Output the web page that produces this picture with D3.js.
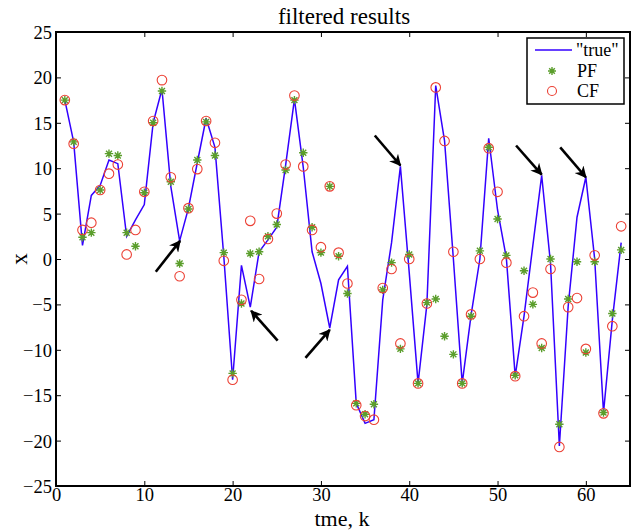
<!DOCTYPE html>
<html>
<head>
<meta charset="utf-8">
<script src="https://cdn.jsdelivr.net/npm/d3@7"></script>
<style>
body { margin: 0; background: #fff; }
svg text { font-family: "Liberation Serif", "Times New Roman", serif; fill: #000; }
</style>
</head>
<body>
<svg id="chart" width="638" height="532"></svg>
<script>
// ---- data ----
const steps = d3.range(1, 65);
const trueValues = [17.5, 12.9, 1.5, 7.0, 8.1, 10.9, 10.5, 2.5, 4.3, 6.0,
  15.0, 18.7, 8.0, 2.0, 5.6, 10.6, 15.5, 12.3, 0.3, -13.3,
  -0.7, -5.3, 0.8, 2.1, 3.5, 10.3, 17.6, 10.1, 0.8, -2.7,
  -7.6, -2.3, -0.8, -15.9, -18.1, -17.7, -4.5, 1.8, 10.2, -1.5,
  -13.7, -5.0, 19.1, 13.0, 0.0, -13.7, -6.2, 0.0, 13.3, 5.4,
  0.1, -12.9, -6.3, 1.5, 9.2, -0.5, -20.6, -5.2, 4.6, 9.0,
  0.0, -16.9, -6.7, 1.8];
const pfValues = [17.5, 12.9, 2.4, 2.9, 7.6, 11.6, 11.4, 2.9, 1.4, 7.3,
  15.0, 18.5, 8.5, -0.5, 5.5, 10.9, 15.1, 11.4, 0.7, -12.6,
  -4.9, 0.6, 0.8, 2.5, 3.8, 9.8, 17.5, 11.7, 3.5, 0.7,
  8.0, 0.3, -3.8, -15.9, -17.1, -16.0, -3.4, -0.4, -9.9, 0.5,
  -13.7, -4.8, -4.4, -8.5, -10.5, -13.7, -6.3, 0.9, 12.3, 4.4,
  0.4, -12.8, -1.3, -5.0, -9.8, 0.0, -18.2, -4.4, -0.3, -10.3,
  -0.3, -16.9, -6.0, 1.0];
const cfValues = [17.5, 12.7, 3.2, 4.0, 7.6, 9.4, 10.4, 0.5, 3.2, 7.4,
  15.2, 19.7, 9.0, -1.9, 5.6, 9.9, 15.2, 12.8, -0.2, -13.3,
  -4.5, 4.2, -2.2, 2.2, 5.0, 10.4, 18.0, 10.2, 3.2, 1.3,
  8.0, 0.7, -2.7, -16.1, -17.3, -17.7, -3.2, -1.1, -9.3, 0.0,
  -13.7, -4.9, 18.9, 13.0, 0.8, -13.7, -6.1, 0.0, 12.2, 7.4,
  -0.4, -12.9, -6.3, -3.7, -9.3, -1.1, -20.7, -5.3, -4.3, -9.9,
  0.4, -17.0, -7.4, 3.6];
// arrows: [tailK, tailX, headK, headX]
const arrows = [
  [11.3, -1.4, 14.05, 2.0],
  [25.1, -9.0, 22.1, -5.7],
  [28.25, -10.9, 31.0, -7.8],
  [36.1, 13.6, 39.0, 10.3],
  [52.1, 12.5, 55.0, 9.3],
  [57.1, 12.3, 60.0, 9.0]
];
const xTicks = [0, 10, 20, 30, 40, 50, 60];
const yTicks = [25, 20, 15, 10, 5, 0, -5, -10, -15, -20, -25];
const seriesNames = ['"true"', 'PF', 'CF'];

// ---- layout ----
const L = 56, R = 630, T = 32, B = 486;
const svg = d3.select("#chart");
const x = d3.scaleLinear().domain([0, 65]).range([L, R]);
const y = d3.scaleLinear().domain([-25, 25]).range([B, T]);

const blue = "#3300ff", green = "#5b9e2c", red = "#ec4034";
const fmt = d => d < 0 ? "\u2212" + Math.abs(d) : String(d);

// axes (ticks inward)
const axB = svg.append("g").attr("transform", `translate(0,${B})`)
  .call(d3.axisBottom(x).tickValues(xTicks).tickSize(-5).tickPadding(2).tickFormat(fmt));
const axT = svg.append("g").attr("transform", `translate(0,${T})`)
  .call(d3.axisTop(x).tickValues(xTicks).tickSize(-5).tickFormat(""));
const axL = svg.append("g").attr("transform", `translate(${L},0)`)
  .call(d3.axisLeft(y).tickValues(yTicks).tickSize(-5).tickPadding(4).tickFormat(fmt));
const axR = svg.append("g").attr("transform", `translate(${R},0)`)
  .call(d3.axisRight(y).tickValues(yTicks).tickSize(-5).tickFormat(""));
[axB, axT, axL, axR].forEach(a => {
  a.select(".domain").remove();
  a.selectAll(".tick line").attr("stroke", "#000").attr("stroke-width", 1);
  a.selectAll("text").attr("font-size", 18.5).attr("font-family", "Liberation Serif");
});
axL.selectAll("text").attr("dy", "0.35em");
axB.selectAll("text").attr("dy", "0.7em");

// frame
svg.append("rect").attr("x", L).attr("y", T).attr("width", R - L).attr("height", B - T)
  .attr("fill", "none").attr("stroke", "#000").attr("stroke-width", 2);

// line
const line = d3.line().x((d, i) => x(steps[i])).y(d => y(d));
svg.append("path").datum(trueValues).attr("d", line)
  .attr("fill", "none").attr("stroke", blue).attr("stroke-width", 1.5).attr("stroke-linejoin", "miter");

// star marker
function star(g, cx, cy, r) {
  const p = [];
  for (let a = 0; a < 4; a++) {
    const ang = a * Math.PI / 4;
    const dx = Math.cos(ang) * r, dy = Math.sin(ang) * r;
    p.push(`M${cx - dx},${cy - dy}L${cx + dx},${cy + dy}`);
  }
  g.append("path").attr("d", p.join("")).attr("stroke", green).attr("stroke-width", 1.4).attr("fill", "none");
}
const pfG = svg.append("g");
pfValues.forEach((v, i) => star(pfG, x(steps[i]), y(v), 4.2));

svg.append("g").selectAll("circle").data(cfValues).join("circle")
  .attr("cx", (d, i) => x(steps[i])).attr("cy", d => y(d)).attr("r", 4.8)
  .attr("fill", "none").attr("stroke", red).attr("stroke-width", 1.1);

// arrows
const defs = svg.append("defs");
defs.append("marker").attr("id", "ah").attr("viewBox", "0 0 10 10")
  .attr("refX", 9).attr("refY", 5).attr("markerWidth", 5).attr("markerHeight", 4.5)
  .attr("orient", "auto").attr("markerUnits", "strokeWidth")
  .append("path").attr("d", "M0,0L10,5L0,10L3,5Z").attr("fill", "#000");
svg.append("g").selectAll("line").data(arrows).join("line")
  .attr("x1", d => x(d[0])).attr("y1", d => y(d[1]))
  .attr("x2", d => x(d[2])).attr("y2", d => y(d[3]))
  .attr("stroke", "#000").attr("stroke-width", 2.6).attr("marker-end", "url(#ah)");

// titles
svg.append("text").attr("x", (L + R) / 2 + 1).attr("y", 24).attr("text-anchor", "middle")
  .attr("font-size", 23).text("filtered results");
svg.append("text").attr("x", (L + R) / 2 - 1).attr("y", 526).attr("text-anchor", "middle")
  .attr("font-size", 22).text("tme, k");
svg.append("text").attr("transform", `translate(27,${y(0)}) rotate(-90)`).attr("text-anchor", "middle")
  .attr("font-size", 23).text("x");

// legend
const lg = svg.append("g");
lg.append("rect").attr("x", 527).attr("y", 38).attr("width", 97).attr("height", 66)
  .attr("fill", "#fff").attr("stroke", "#000").attr("stroke-width", 1.5);
lg.append("line").attr("x1", 535).attr("x2", 572).attr("y1", 50).attr("y2", 50)
  .attr("stroke", blue).attr("stroke-width", 1.5);
star(lg, 552, 71, 4);
lg.append("circle").attr("cx", 552).attr("cy", 91).attr("r", 4.5)
  .attr("fill", "none").attr("stroke", red).attr("stroke-width", 1.1);
lg.selectAll("text.lab").data(seriesNames).join("text").attr("class", "lab")
  .attr("x", (d, i) => i === 0 ? 576 : 577).attr("y", (d, i) => 50 + i * 20.5).attr("dy", "0.35em")
  .attr("font-size", 18).text(d => d);
</script>
</body>
</html>
